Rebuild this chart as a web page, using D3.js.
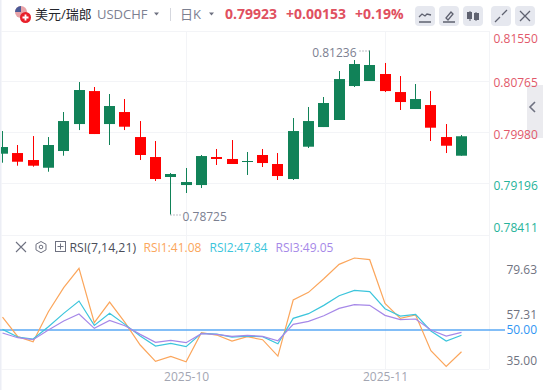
<!DOCTYPE html>
<html>
<head>
<meta charset="utf-8">
<script src="https://cdn.jsdelivr.net/npm/d3@7"></script>
<style>
  body { margin: 0; background: #fff; overflow: hidden; }
  text { font-family: "Open Sans", "Noto Sans CJK SC", sans-serif; }
  .axis path, .axis line { display: none; }
</style>
</head>
<body>
<script>
const WIDTH = 543;
const HEIGHT = 390;

// velas diarias
const open  = [.79656,.79666,.79559,.79441,.79697,.80110,.80615,.80110,.80294,.79911,.79605,.79299,.79176,.79176,.79605,.79575,.79529,.79636,.79498,.79268,.79763,.80064,.80172,.80692,.80769,.80876,.80600,.80340,.80401,.79911,.79625];
const high  = [.80003,.79789,.79926,.79911,.80294,.80753,.80677,.80570,.80493,.80156,.79850,.79360,.79437,.79636,.79728,.79865,.79682,.79728,.79666,.80202,.80371,.80524,.80922,.81090,.81236,.81045,.80845,.80723,.80615,.80110,.79942];
const low   = [.79518,.79472,.79457,.79380,.79625,.80018,.79957,.79789,.80018,.79559,.79238,.78725,.79054,.79130,.79483,.79498,.79330,.79452,.79253,.79253,.79743,.80064,.80172,.80677,.80769,.80600,.80325,.80340,.79850,.79666,.79625];
const close = [.79758,.79533,.79472,.79789,.80156,.80631,.79957,.80386,.80069,.79636,.79268,.79345,.79222,.79620,.79575,.79498,.79544,.79513,.79314,.80003,.80156,.80432,.80799,.81029,.81014,.80615,.80447,.80493,.80054,.79778,.79923];

const rsi1 = [55.35,47.26,45.20,57.54,67.42,75.38,53.02,61.52,53.16,43.83,37.11,39.16,36.97,48.90,47.94,45.47,47.26,46.02,39.30,62.35,65.50,71.12,77.02,79.63,78.94,60.97,54.80,56.17,41.50,35.00,41.08];
const rsi2 = [50.27,47.12,46.30,51.37,56.86,61.93,51.92,56.86,52.33,47.53,43.42,44.51,43.14,48.63,48.35,47.12,47.53,47.26,44.38,54.80,56.72,60.15,64.13,66.32,65.78,58.78,55.76,56.45,49.59,45.47,47.84];
const rsi3 = [48.77,46.84,46.02,50.00,53.70,56.58,50.69,53.98,51.78,48.22,44.92,45.75,44.79,48.49,48.22,47.39,47.81,47.39,45.61,52.33,53.57,55.90,58.92,60.43,60.15,56.04,54.25,54.53,50.00,47.53,49.05];

const priceTicks = [0.81550, 0.80765, 0.79980, 0.79196, 0.78411];
const rsiTicks = [79.63, 57.31, 50.00, 35.00];
const dateTicks = [12, 25];
const dateLabels = ["2025-10", "2025-11"];
const rsiLegend = ["RSI1:41.08", "RSI2:47.84", "RSI3:49.05"];

const GREEN = "#118258";
const RED = "#ff0000";
const GRID = "#f3f4f7";
const RSI_COLORS = ["#fba65c", "#3cc5dc", "#a688e8"];

const svg = d3.select("body")
    .append("svg")
    .attr("width", WIDTH)
    .attr("height", HEIGHT)
    .style("display", "block");

const indices = d3.range(open.length);

const x = d3.scaleLinear().domain([0, 30]).range([2, 461]);
const px = (i) => Math.round(x(i)) + 0.5;
const y = d3.scaleLinear().domain([0.81550, 0.78411]).range([30, 235]);
const rsiY = d3.scaleLinear().domain([79.63, 35]).range([258, 366.5]);
// el eje RSI reparte sus etiquetas en un tramo mas corto que las lineas
const rsiLabelY = d3.scaleLinear().domain([79.63, 35]).range([269.3, 360.3]);

// rejilla
svg.append("rect").attr("width", 1.5).attr("height", HEIGHT).attr("fill", "#eceef5");

const gridY = [31, 81, 132, 183, 235, 369];
svg.append("g")
    .selectAll("line")
    .data(gridY)
    .join("line")
    .attr("x1", 1).attr("x2", 489)
    .attr("y1", (d) => d + 0.5).attr("y2", (d) => d + 0.5)
    .attr("stroke", GRID);

svg.append("g")
    .selectAll("line")
    .data(dateTicks)
    .join("line")
    .attr("x1", (d) => px(d)).attr("x2", (d) => px(d))
    .attr("y1", 31).attr("y2", 369)
    .attr("stroke", GRID);

svg.append("line")
    .attr("x1", 489.5).attr("x2", 489.5)
    .attr("y1", 31).attr("y2", 369)
    .attr("stroke", GRID);

// pestana lateral, va por debajo de las etiquetas
svg.append("rect").attr("x", 527).attr("y", 85).attr("width", 16).attr("height", 53).attr("fill", "#ebebef");
svg.append("path").attr("d", "M535 102l-5 5 5 5").attr("fill", "none").attr("stroke", "#6e7180").attr("stroke-width", 1.6);

// velas
const clip = svg.append("clipPath").attr("id", "pane");
clip.append("rect").attr("x", 1).attr("y", 31).attr("width", 488).attr("height", 338);

const velas = svg.append("g").attr("clip-path", "url(#pane)");
const color = (i) => close[i] >= open[i] ? GREEN : RED;

velas.selectAll("line")
    .data(indices)
    .join("line")
    .attr("x1", (i) => px(i)).attr("x2", (i) => px(i))
    .attr("y1", (i) => y(high[i])).attr("y2", (i) => y(low[i]))
    .attr("stroke", color);

velas.selectAll("rect")
    .data(indices)
    .join("rect")
    .attr("x", (i) => px(i) - 5.5)
    .attr("width", 11)
    .attr("y", (i) => y(Math.max(open[i], close[i])))
    .attr("height", (i) => Math.max(1, y(Math.min(open[i], close[i])) - y(Math.max(open[i], close[i]))))
    .attr("fill", color);

// maximo y minimo
const iMax = d3.maxIndex(high);
const iMin = d3.minIndex(low);

svg.append("line")
    .attr("x1", px(iMax) - 10).attr("x2", px(iMax))
    .attr("y1", y(high[iMax]) + 0.5).attr("y2", y(high[iMax]) + 0.5)
    .attr("stroke", "#7c8091").attr("stroke-dasharray", "1 2");
svg.append("text")
    .attr("x", px(iMax) - 13).attr("y", y(high[iMax]) + 6)
    .attr("text-anchor", "end").attr("font-size", 12).attr("fill", "#7c8091")
    .text(d3.format(".5f")(high[iMax]));

svg.append("line")
    .attr("x1", px(iMin)).attr("x2", px(iMin) + 10)
    .attr("y1", y(low[iMin]) + 0.5).attr("y2", y(low[iMin]) + 0.5)
    .attr("stroke", "#7c8091").attr("stroke-dasharray", "1 2");
svg.append("text")
    .attr("x", px(iMin) + 12).attr("y", y(low[iMin]) + 7)
    .attr("font-size", 12).attr("fill", "#7c8091")
    .text(d3.format(".5f")(low[iMin]));

// eje de precios
const ejePrecio = svg.append("g")
    .attr("class", "axis")
    .attr("transform", "translate(493.5 0)")
    .call(d3.axisRight(y).tickValues(priceTicks).tickSize(0).tickPadding(0).tickFormat(d3.format(".5f")));
ejePrecio.selectAll("text")
    .attr("font-size", 12)
    .attr("text-anchor", "start")
    .attr("fill", (d) => d >= 0.7998 ? "#e2596a" : "#26b39a")
    .attr("dy", (d) => d === 0.81550 ? 12.5 : d === 0.78411 ? -4 : 5.5);

// lineas RSI
const linea = (serie) => d3.line().x((i) => x(i) + 0.5).y((i) => rsiY(serie[i]))(indices);

svg.append("line")
    .attr("x1", 0).attr("x2", 505)
    .attr("y1", rsiY(50)).attr("y2", rsiY(50))
    .attr("stroke", "#5aa9f5").attr("stroke-width", 1.5);

[rsi1, rsi2, rsi3].forEach((serie, k) => {
    svg.append("path")
        .attr("d", linea(serie))
        .attr("fill", "none")
        .attr("stroke", RSI_COLORS[k])
        .attr("stroke-width", 1.2);
});

// eje RSI
const ejeRsi = svg.append("g")
    .attr("class", "axis")
    .attr("transform", "translate(537 0)")
    .call(d3.axisLeft(rsiLabelY).tickValues(rsiTicks).tickSize(0).tickPadding(0).tickFormat(d3.format(".2f")));
ejeRsi.selectAll("text")
    .attr("font-size", 12)
    .attr("fill", (d) => d === 50 ? "#2f96f3" : "#70737f");

// eje de fechas
const ejeFecha = svg.append("g")
    .attr("class", "axis")
    .attr("transform", "translate(0.5 372)")
    .call(d3.axisBottom(x).tickValues(dateTicks).tickSize(0).tickPadding(0)
        .tickFormat((d, i) => dateLabels[i]));
ejeFecha.selectAll("text")
    .attr("font-size", 12)
    .attr("fill", "#a3a6b2");

// cabecera
const bandera = svg.append("g");
bandera.append("clipPath").attr("id", "flag").append("circle").attr("cx", 21).attr("cy", 12).attr("r", 6);
bandera.append("rect").attr("x", 15).attr("y", 6).attr("width", 12).attr("height", 12)
    .attr("fill", "#e8a3a8").attr("clip-path", "url(#flag)");
bandera.append("rect").attr("x", 15).attr("y", 6).attr("width", 6).attr("height", 6)
    .attr("fill", "#4b5a96").attr("clip-path", "url(#flag)");
bandera.append("circle").attr("cx", 25.5).attr("cy", 17.5).attr("r", 5.5).attr("fill", "#e8202a");
bandera.append("path").attr("d", "M22.5 17.5h6M25.5 14.5v6").attr("stroke", "#fff").attr("stroke-width", 1.8);

const cabecera = [
    { t: "美元/瑞郎", x: 35, fill: "#23252b", weight: 400, size: 13 },
    { t: "USDCHF", x: 97, fill: "#7c8091", weight: 400, size: 13 },
    { t: "日K", x: 180, fill: "#7c8091", weight: 400, size: 13 },
    { t: "0.79923", x: 225, fill: "#e0505f", weight: 700, size: 14 },
    { t: "+0.00153", x: 286, fill: "#e0505f", weight: 700, size: 14 },
    { t: "+0.19%", x: 355, fill: "#e0505f", weight: 700, size: 14 },
];
svg.append("g")
    .selectAll("text")
    .data(cabecera)
    .join("text")
    .attr("x", (d) => d.x).attr("y", 19)
    .attr("font-size", (d) => d.size)
    .attr("font-weight", (d) => d.weight)
    .attr("fill", (d) => d.fill)
    .text((d) => d.t);

svg.append("path").attr("d", "M154 12.5h5l-2.5 3z M209 12.5h5l-2.5 3z").attr("fill", "#6e7180");
svg.append("line").attr("x1", 170.5).attr("x2", 170.5).attr("y1", 8).attr("y2", 21).attr("stroke", "#d5d7de");

// botones
const botones = [415, 439, 463, 491, 515];
const iconos = [
    "M-6 6h12M-6 1l3-3 3 2 2-2 4 1",
    "M-6 6h12M-3 2l5-6 2 2-5 6z",
    "M-3 -5v10M3 -4v9",
    "M1 -1l5-5M-1 1l-5 5",
    "M-5 -5l10 10M5 -5l-10 10",
];
const boton = svg.append("g")
    .selectAll("g")
    .data(botones)
    .join("g")
    .attr("transform", (d) => `translate(${d} 6)`);
boton.append("rect").attr("width", 20).attr("height", 20).attr("rx", 4).attr("fill", "#e6e8ef");
boton.append("path")
    .attr("transform", "translate(10 10)")
    .attr("d", (d, i) => iconos[i])
    .attr("fill", "none")
    .attr("stroke", "#5f6270")
    .attr("stroke-width", (d, i) => i === 2 ? 1 : 1.3);
svg.append("rect").attr("x", 467).attr("y", 12).attr("width", 5).attr("height", 7).attr("fill", "#5f6270");
svg.append("rect").attr("x", 474).attr("y", 13).attr("width", 5).attr("height", 7).attr("fill", "#5f6270");

// fila del indicador
const fila = svg.append("g").attr("fill", "none").attr("stroke", "#6e7180");
fila.append("path").attr("d", "M16 242l10 10M26 242l-10 10").attr("stroke-width", 1.1);
fila.append("path").attr("d", "M41 241.5l5 2.8v5.6l-5 2.8l-5-2.8v-5.6z");
fila.append("circle").attr("cx", 41).attr("cy", 247).attr("r", 1.8);
fila.append("rect").attr("x", 55.5).attr("y", 241.5).attr("width", 10).attr("height", 10);
fila.append("path").attr("d", "M57.5 246.5h6M60.5 243.5v6");

svg.append("text")
    .attr("x", 69.5).attr("y", 251.5)
    .attr("font-size", 12.3).attr("fill", "#4b4e59")
    .text("RSI(7,14,21)");

svg.append("g")
    .selectAll("text")
    .data(rsiLegend)
    .join("text")
    .attr("x", (d, i) => 143.5 + i * 66)
    .attr("y", 251.5)
    .attr("font-size", 12)
    .attr("fill", (d, i) => RSI_COLORS[i])
    .text((d) => d);
</script>
</body>
</html>
